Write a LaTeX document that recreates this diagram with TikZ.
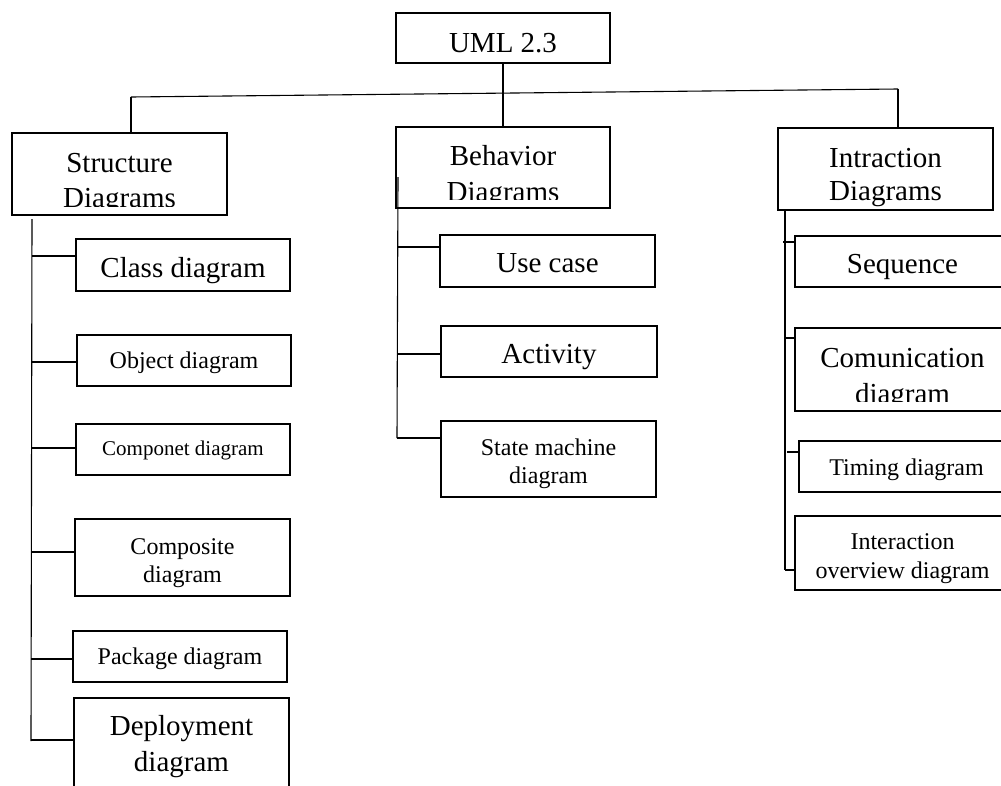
\documentclass[tikz,border=0pt]{standalone}
\usepackage{fontspec}
\setmainfont{Liberation Serif}
\tikzset{
  box/.style={draw, line width=1.1pt, inner sep=0pt, outer sep=0pt},
  conn/.style={line width=1.1pt},
  bigtxt/.style={anchor=base, inner sep=0pt, font=\fontsize{29}{35}\selectfont},
  smalltxt/.style={anchor=base, inner sep=0pt, font=\fontsize{24}{29}\selectfont},
  tinytxt/.style={anchor=base, inner sep=0pt, font=\fontsize{21}{25}\selectfont},
}
\begin{document}
\begin{tikzpicture}[x=1pt,y=-1pt]
\clip (0,0) rectangle (1001,785);
\fill[white] (0,0) rectangle (1001,785);

% top
\node[box, minimum width=214pt, minimum height=50pt] (uml) at (503,38) {};
\node[bigtxt] (umlt) at (503,52) {UML 2.3};

% category boxes
\node[box, minimum width=215pt, minimum height=82pt] (sd) at (119.5,174) {};
\node[box, minimum width=214pt, minimum height=81pt] (bd) at (503,167.5) {};
\node[box, minimum width=215pt, minimum height=82pt] (id) at (885.5,169) {};

\node[bigtxt] (sdt1) at (119.5,172) {Structure};
\begin{scope}
  \clip (12,180) rectangle (227,206);
  \node[bigtxt] (sdt2) at (119.5,207) {Diagrams};
\end{scope}
\node[bigtxt] (bdt1) at (503,165) {Behavior};
\begin{scope}
  \clip (396,175) rectangle (610,199);
  \node[bigtxt] (bdt2) at (503,201) {Diagrams};
\end{scope}
\node[bigtxt] (idt1) at (885.5,167) {Intraction};
\node[bigtxt] (idt2) at (885.5,200) {Diagrams};

% top connectors
\coordinate (hl) at (131,97);
\coordinate (hr) at (898,89);
\draw[conn] (uml.south) -- (bd.north);
\draw[conn] (hl) -- (hr);
\draw[conn] (hl) -- (hl |- sd.north);
\draw[conn] (hr) -- (hr |- id.north);

% structure children
\node[box, minimum width=214pt, minimum height=52pt] (cls) at (183,265) {};
\node[bigtxt] (clst) at (183,277) {Class diagram};
\node[box, minimum width=214pt, minimum height=51pt] (obj) at (184,360.5) {};
\node[smalltxt] (objt) at (184,368) {Object diagram};
\node[box, minimum width=214pt, minimum height=51pt] (cmp) at (183,449.5) {};
\node[tinytxt] (cmpt) at (183,455) {Componet diagram};
\node[box, minimum width=215pt, minimum height=77pt] (cps) at (182.5,557.5) {};
\node[smalltxt] (cpst1) at (182.5,554) {Composite};
\node[smalltxt] (cpst2) at (182.5,582) {diagram};
\node[box, minimum width=214pt, minimum height=51pt] (pkg) at (180,656.5) {};
\node[smalltxt] (pkgt) at (180,664) {Package diagram};
\node[box, minimum width=215pt, minimum height=112pt] (dep) at (181.5,754) {};
\node[bigtxt] (dept1) at (181.5,735) {Deployment};
\node[bigtxt] (dept2) at (181.5,771) {diagram};

\coordinate (st) at (32,219);
\coordinate (sb) at (31,741);
\draw[conn] (st) -- (sb);
\coordinate (s1) at (32,256);
\coordinate (s2) at (32,362);
\coordinate (s3) at (32,448);
\coordinate (s4) at (32,552);
\coordinate (s5) at (31,659);
\coordinate (s6) at (31,740);
\draw[conn] (s1) -- (s1 -| cls.west);
\draw[conn] (s2) -- (s2 -| obj.west);
\draw[conn] (s3) -- (s3 -| cmp.west);
\draw[conn] (s4) -- (s4 -| cps.west);
\draw[conn] (s5) -- (s5 -| pkg.west);
\draw[conn] (s6) -- (s6 -| dep.west);

% behavior children
\node[box, minimum width=215pt, minimum height=52pt] (use) at (547.5,261) {};
\node[bigtxt] (uset) at (547.5,272) {Use case};
\node[box, minimum width=216pt, minimum height=51pt] (act) at (549,351.5) {};
\node[bigtxt] (actt) at (549,363) {Activity};
\node[box, minimum width=215pt, minimum height=76pt] (stm) at (548.5,459) {};
\node[smalltxt] (stmt1) at (548.5,455) {State machine};
\node[smalltxt] (stmt2) at (548.5,483) {diagram};

\coordinate (bt) at (398,177);
\coordinate (bb) at (397,438);
\draw[conn] (bt) -- (bb);
\coordinate (b1) at (398,247);
\coordinate (b2) at (397,354);
\coordinate (b3) at (397,438);
\draw[conn] (b1) -- (b1 -| use.west);
\draw[conn] (b2) -- (b2 -| act.west);
\draw[conn] (b3) -- (b3 -| stm.west);

% interaction children
\node[box, minimum width=215pt, minimum height=51pt] (seq) at (902.5,261.5) {};
\node[bigtxt] (seqt) at (902.5,273) {Sequence};
\node[box, minimum width=215pt, minimum height=83pt] (com) at (902.5,369.5) {};
\node[bigtxt] (comt1) at (902.5,367) {Comunication};
\begin{scope}
  \clip (795,375) rectangle (1001,401);
  \node[bigtxt] (comt2) at (902.5,403) {diagram};
\end{scope}
\node[box, minimum width=215pt, minimum height=51pt] (tim) at (906.5,466.5) {};
\node[smalltxt] (timt) at (906.5,475) {Timing diagram};
\node[box, minimum width=215pt, minimum height=74pt] (iov) at (902.5,553) {};
\node[smalltxt] (iovt1) at (902.5,549) {Interaction};
\node[smalltxt] (iovt2) at (902.5,578) {overview diagram};

\coordinate (it) at (785,210);
\coordinate (ib) at (785,570);
\draw[conn] (it) -- (ib);
\coordinate (i1) at (783,242);
\coordinate (i2) at (785,338);
\coordinate (i3) at (787,452);
\coordinate (i4) at (785,570);
\draw[conn] (i1) -- (i1 -| seq.west);
\draw[conn] (i2) -- (i2 -| com.west);
\draw[conn] (i3) -- (i3 -| tim.west);
\draw[conn] (i4) -- (i4 -| iov.west);
\end{tikzpicture}
\end{document}
